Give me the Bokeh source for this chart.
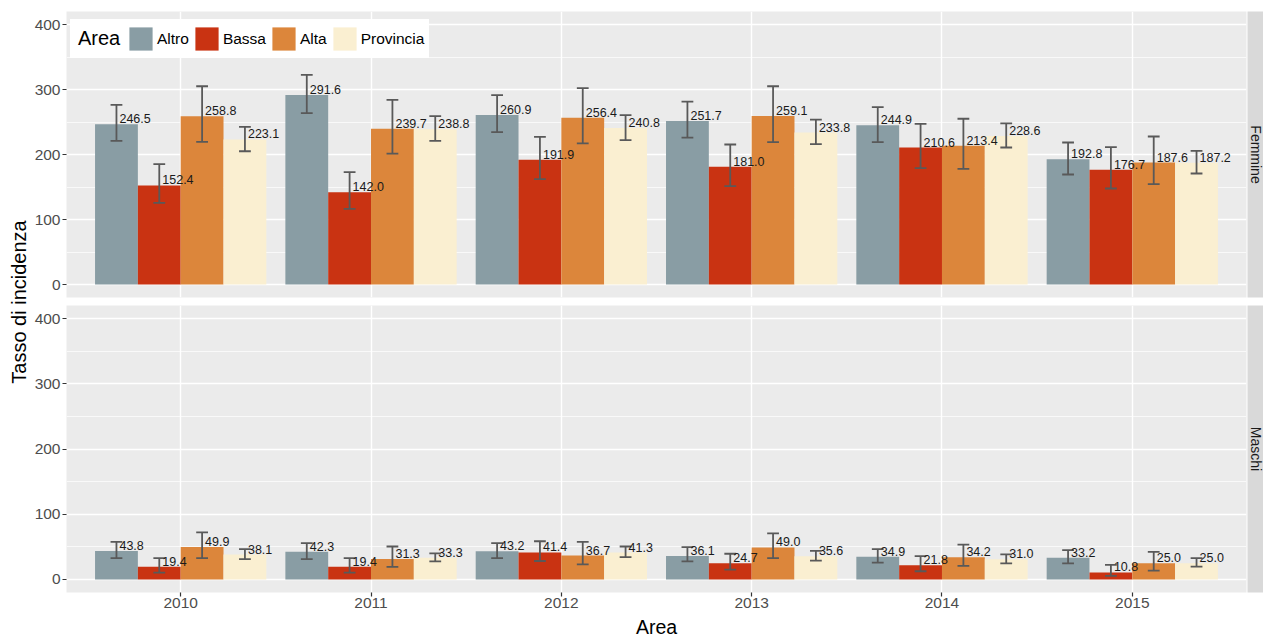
from bokeh.plotting import figure
from bokeh.models import (ColumnDataSource, Range1d, FixedTicker, Grid, Legend,
                          LegendItem)
from bokeh.layouts import row, column
from bokeh.core.properties import value
from bokeh.embed import file_html
from bokeh.resources import INLINE
import math

years = ["2010", "2011", "2012", "2013", "2014", "2015"]
areas = ["Altro", "Bassa", "Alta", "Provincia"]
colors = ["#899DA4", "#C93312", "#DC863B", "#FAEFD1"]
y_ticks = [0, 100, 200, 300, 400]
y_minor = [50, 150, 250, 350]

# Femmine: incidence rate with confidence limits
fem_altro = [246.5, 291.6, 260.9, 251.7, 244.9, 192.8]
fem_altro_lo = [221.0, 263.6, 234.4, 226.0, 219.0, 169.2]
fem_altro_hi = [276.4, 322.6, 291.3, 281.5, 272.8, 218.5]
fem_bassa = [152.4, 142.0, 191.9, 181.0, 210.6, 176.7]
fem_bassa_lo = [125.6, 116.4, 162.0, 151.3, 179.0, 147.7]
fem_bassa_hi = [185.1, 172.8, 227.2, 215.4, 247.2, 211.3]
fem_alta = [258.8, 239.7, 256.4, 259.1, 213.4, 187.6]
fem_alta_lo = [219.5, 201.5, 217.0, 219.0, 178.0, 154.4]
fem_alta_hi = [305.0, 284.0, 302.0, 305.0, 255.0, 227.7]
fem_prov = [223.1, 238.8, 240.8, 233.8, 228.6, 187.2]
fem_prov_lo = [205.0, 221.0, 222.0, 216.0, 210.8, 170.8]
fem_prov_hi = [242.6, 259.0, 260.5, 253.8, 248.0, 205.6]

# Maschi: incidence rate with confidence limits
mas_altro = [43.8, 42.3, 43.2, 36.1, 34.9, 33.2]
mas_altro_lo = [32.8, 31.3, 32.8, 27.8, 25.8, 24.7]
mas_altro_hi = [57.6, 55.6, 55.6, 49.5, 46.5, 45.0]
mas_bassa = [19.4, 19.4, 41.4, 24.7, 21.8, 10.8]
mas_bassa_lo = [10.6, 10.6, 28.3, 15.2, 12.6, 5.6]
mas_bassa_hi = [32.8, 32.8, 58.6, 39.4, 35.9, 22.2]
mas_alta = [49.9, 31.3, 36.7, 49.0, 34.2, 25.0]
mas_alta_lo = [32.8, 19.2, 23.2, 32.8, 20.7, 13.6]
mas_alta_hi = [72.2, 50.5, 57.6, 70.7, 53.5, 42.4]
mas_prov = [38.1, 33.3, 41.3, 35.6, 31.0, 25.0]
mas_prov_lo = [31.3, 27.8, 34.3, 28.8, 24.7, 19.7]
mas_prov_hi = [46.5, 39.9, 50.5, 43.9, 38.4, 32.8]

FONT_NAME = "Liberation Sans"
FONT = value(FONT_NAME)
ERR = "#595959"
BAR_W = 0.225
CAP = 0.031
offsets = [-1.5 * BAR_W, -0.5 * BAR_W, 0.5 * BAR_W, 1.5 * BAR_W]
x_ticks = list(range(1, len(years) + 1))
x_range = Range1d(0.4, 6.6)


def style_ticks(ax):
    ax.axis_line_color = None
    ax.major_tick_line_color = "#333333"
    ax.major_tick_line_width = 1.2
    ax.major_tick_in = 0
    ax.major_tick_out = 4
    ax.minor_tick_line_color = None
    ax.major_label_text_font = FONT_NAME
    ax.major_label_text_font_size = "15.5px"
    ax.major_label_text_color = "#4D4D4D"


def make_panel(rates, los, his, height, top, bottom, with_xaxis):
    p = figure(width=1217, height=height, x_range=x_range,
               y_range=Range1d(-20, 420), output_backend="svg",
               toolbar_location=None,
               x_axis_location="below" if with_xaxis else None,
               min_border_left=36, min_border_right=1,
               min_border_top=top, min_border_bottom=bottom)
    p.background_fill_color = "#EBEBEB"
    p.border_fill_color = "white"
    p.outline_line_color = None
    p.grid.visible = False
    p.add_layout(Grid(dimension=0, ticker=FixedTicker(ticks=x_ticks),
                      grid_line_color="white", grid_line_width=1.4))
    p.add_layout(Grid(dimension=1,
                      ticker=FixedTicker(ticks=y_ticks, minor_ticks=y_minor),
                      grid_line_color="white", grid_line_width=1.4,
                      minor_grid_line_color="white", minor_grid_line_width=0.7))

    yax = p.yaxis[0]
    yax.ticker = FixedTicker(ticks=y_ticks)
    style_ticks(yax)
    yax.major_label_standoff = 2

    if with_xaxis:
        xax = p.xaxis[0]
        xax.ticker = FixedTicker(ticks=x_ticks)
        xax.major_label_overrides = {t: y for t, y in zip(x_ticks, years)}
        style_ticks(xax)
        xax.major_label_standoff = 1

    bars = []
    for i in range(len(areas)):
        xs = [t + offsets[i] for t in x_ticks]
        src = ColumnDataSource(dict(
            x=xs, top=rates[i], lo=los[i], hi=his[i],
            x0=[x - CAP for x in xs], x1=[x + CAP for x in xs],
            lab=["%.1f" % v for v in rates[i]]))
        r = p.vbar(x="x", top="top", bottom=0, width=BAR_W, source=src,
                   fill_color=colors[i], line_color=None)
        bars.append(r)
        p.segment(x0="x", y0="lo", x1="x", y1="hi", source=src,
                  line_color=ERR, line_width=1.8)
        p.segment(x0="x0", y0="hi", x1="x1", y1="hi", source=src,
                  line_color=ERR, line_width=1.8)
        p.segment(x0="x0", y0="lo", x1="x1", y1="lo", source=src,
                  line_color=ERR, line_width=1.8)
    for i in range(len(areas)):
        p.text(x="x", y="top", text="lab", source=bars[i].data_source,
               x_offset=3, y_offset=-1, text_align="left",
               text_baseline="bottom", text_font=FONT,
               text_font_size="12.5px", text_color="#1A1A1A")
    return p, bars


def make_strip(label, height, top, bottom):
    s = figure(width=16, height=height, x_range=Range1d(0, 16),
               y_range=Range1d(0, 1), output_backend="svg",
               toolbar_location=None, x_axis_location=None,
               y_axis_location=None, min_border_left=0, min_border_right=0,
               min_border_top=top, min_border_bottom=bottom)
    s.background_fill_color = "#D9D9D9"
    s.border_fill_color = "white"
    s.outline_line_color = None
    s.grid.visible = False
    s.text(x=[8], y=[0.5], text=[label], angle=-math.pi / 2,
           text_align="center", text_baseline="middle", text_font=FONT,
           text_font_size="14px", text_color="#1A1A1A")
    return s


top_fig, top_bars = make_panel(
    [fem_altro, fem_bassa, fem_alta, fem_prov],
    [fem_altro_lo, fem_bassa_lo, fem_alta_lo, fem_prov_lo],
    [fem_altro_hi, fem_bassa_hi, fem_alta_hi, fem_prov_hi],
    305, 11, 8, False)
bot_fig, _ = make_panel(
    [mas_altro, mas_bassa, mas_alta, mas_prov],
    [mas_altro_lo, mas_bassa_lo, mas_alta_lo, mas_prov_lo],
    [mas_altro_hi, mas_bassa_hi, mas_alta_hi, mas_prov_hi],
    309, 0, 22, True)

# legend: heading box followed by the four fill keys
legend_common = dict(orientation="horizontal", glyph_height=29, padding=4,
                     margin=0, label_text_font=FONT_NAME,
                     label_text_color="black",
                     background_fill_color="white", background_fill_alpha=1.0,
                     border_line_color="white", border_line_width=1)
legend_head = Legend(items=[LegendItem(label="Area", renderers=[])],
                     location=(4, 239), glyph_width=3, label_standoff=0,
                     label_text_font_size="20px", **legend_common)
legend_keys = Legend(items=[LegendItem(label=a, renderers=[r])
                            for a, r in zip(areas, top_bars)],
                     location=(55, 239), glyph_width=29, label_standoff=2,
                     spacing=3, label_text_font_size="15.5px", **legend_common)
top_fig.add_layout(legend_head)
top_fig.add_layout(legend_keys)

# y axis title spanning both panels
ylab = figure(width=30, height=637, x_range=Range1d(0, 30),
              y_range=Range1d(0, 637), output_backend="svg",
              toolbar_location=None, x_axis_location=None,
              y_axis_location=None, min_border_left=0, min_border_right=0,
              min_border_top=0, min_border_bottom=0)
ylab.outline_line_color = None
ylab.grid.visible = False
ylab.background_fill_color = "white"
ylab.text(x=[18], y=[335.5], text=["Tasso di incidenza"], angle=math.pi / 2,
          text_align="center", text_baseline="middle", text_font=FONT,
          text_font_size="20px", text_color="black")

# x axis title under the panels
xlab = figure(width=1233, height=23, x_range=x_range, y_range=Range1d(0, 23),
              output_backend="svg", toolbar_location=None,
              x_axis_location=None, y_axis_location=None,
              min_border_left=36, min_border_right=17,
              min_border_top=0, min_border_bottom=0)
xlab.outline_line_color = None
xlab.grid.visible = False
xlab.background_fill_color = "white"
xlab.border_fill_color = "white"
xlab.text(x=[(x_range.start + x_range.end) / 2], y=[11], text=["Area"],
          text_align="center", text_baseline="middle", text_font=FONT,
          text_font_size="19.5px", text_color="black")

layout = row(ylab, column(
    row(top_fig, make_strip("Femmine", 305, 11, 8)),
    row(bot_fig, make_strip("Maschi", 309, 0, 22)),
    xlab))

open("out.html", "w").write(file_html(layout, INLINE))
